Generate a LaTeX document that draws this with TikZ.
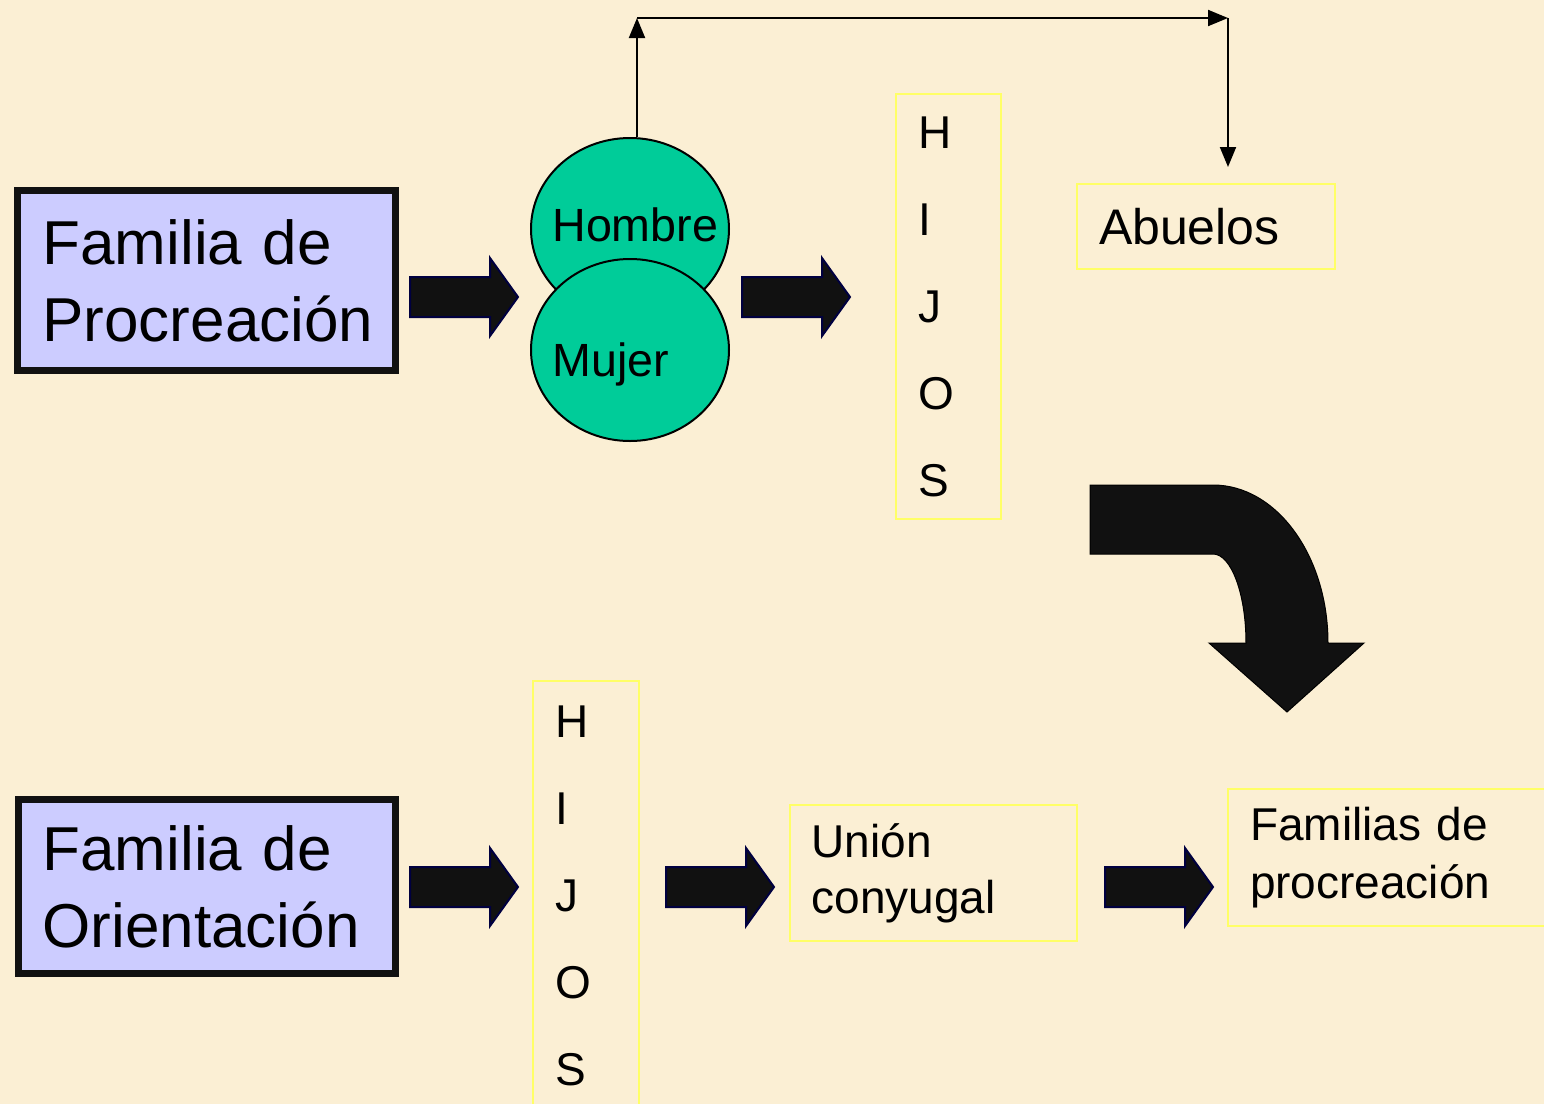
\documentclass[tikz,border=0pt]{standalone}
\usepackage{fontspec}
\setmainfont{Liberation Sans}
\usetikzlibrary{positioning,calc,arrows.meta,shapes.geometric}
\definecolor{fondo}{HTML}{FBEFD4}
\definecolor{lila}{HTML}{CCCCFF}
\definecolor{verde}{HTML}{00CC99}
\definecolor{amarillo}{HTML}{FFFF66}
\definecolor{negro}{HTML}{111111}
\definecolor{marino}{HTML}{000040}
\newcommand*{\tam}[2]{\fontsize{#1}{#2}\selectfont}

\tikzset{
  familia/.style={draw=negro,fill=lila,line width=3.5pt,minimum width=189pt,
    minimum height=90pt,inner xsep=12.25pt,text width=164pt,align=left,
    font=\tam{31}{38.5}},
  caja/.style={draw=amarillo,line width=1pt,anchor=north west,inner xsep=10.5pt,
    align=left},
  pareja/.style={ellipse,draw=black,fill=verde,line width=1pt,minimum width=99pt,
    minimum height=91pt,inner sep=0pt},
  nombre/.style={anchor=base west,inner sep=0pt,font=\tam{23.3}{28}},
  flecha/.style={line width=1pt,-{Triangle[length=10pt,width=8pt]}},
  bloque/.pic={\filldraw[fill=negro,draw=marino,line width=1pt]
    (-54,-20) -- (26,-20) -- (26,-39) -- (54,0) -- (26,39) -- (26,20) -- (-54,20) -- cycle;}
}

\begin{document}
\begin{tikzpicture}[x=0.5pt,y=-0.5pt]
% Background and page size
\fill[fondo] (0,0) rectangle (1544,1104);
\useasboundingbox (0,0) rectangle (1544,1104);
% Upper row
\node[familia] (fproc) at (206.5,280.5) {Familia de\\Procreación};
\node[pareja] (hombre) at (630,229) {};
\node[nombre] (hombretxt) at (552,241) {Hombre};
\node[pareja] (mujer) at (630,350) {};
\node[nombre] (mujertxt) at (552,376) {Mujer};
\node[caja,minimum width=52.5pt,minimum height=212.5pt,text width=30pt,
  font=\tam{23}{43.5}] (hijos1) at (895,93) {H\\I\\J\\O\\S};
\node[caja,minimum width=129pt,minimum height=42.5pt,text width=107pt,
  font=\tam{25}{30}] (abuelos) at (1076,183) {Abuelos};
% Lower row
\node[familia,minimum width=188pt,minimum height=87pt] (forient) at (206.5,886.5)
  {Familia de\\Orientación};
\node[caja,minimum width=53pt,minimum height=215pt,text width=31pt,
  font=\tam{23}{43.5}] (hijos2) at (532,680) {H\\I\\J\\O\\S};
\node[caja,minimum width=143.5pt,minimum height=68pt,text width=122pt,
  font=\tam{23}{28}] (union) at (789,804) {Unión\\conyugal};
\node[caja,minimum width=170pt,minimum height=68.5pt,text width=148pt,
  font=\tam{23}{29}] (familias) at (1227,788) {Familias de\\procreación};
% Block arrows
\pic at (464,297) {bloque};
\pic at (796,297) {bloque};
\pic at (464,887) {bloque};
\pic at (720,887) {bloque};
\pic at (1159,887) {bloque};
% Connector to the grandparents
\coordinate (arriba) at (637,18);
\coordinate (derecha) at (1228,18);
\coordinate (bajada) at (1228,167);
\draw[flecha] (hombre.north -| arriba) -- (arriba);
\draw[flecha] (arriba) -- (derecha);
\draw[flecha] (derecha) -- (bajada);
% Curved arrow
\filldraw[fill=negro,draw=black,line width=0.5pt] (1090,485) -- (1213,485)
  .. controls (1276.5,485) and (1328,555.7) .. (1328,643) -- (1364,643)
  -- (1287,712) -- (1209,643) -- (1246,643)
  .. controls (1246,593.8) and (1231.2,554) .. (1213,554) -- (1090,554) -- cycle;
\end{tikzpicture}
\end{document}
